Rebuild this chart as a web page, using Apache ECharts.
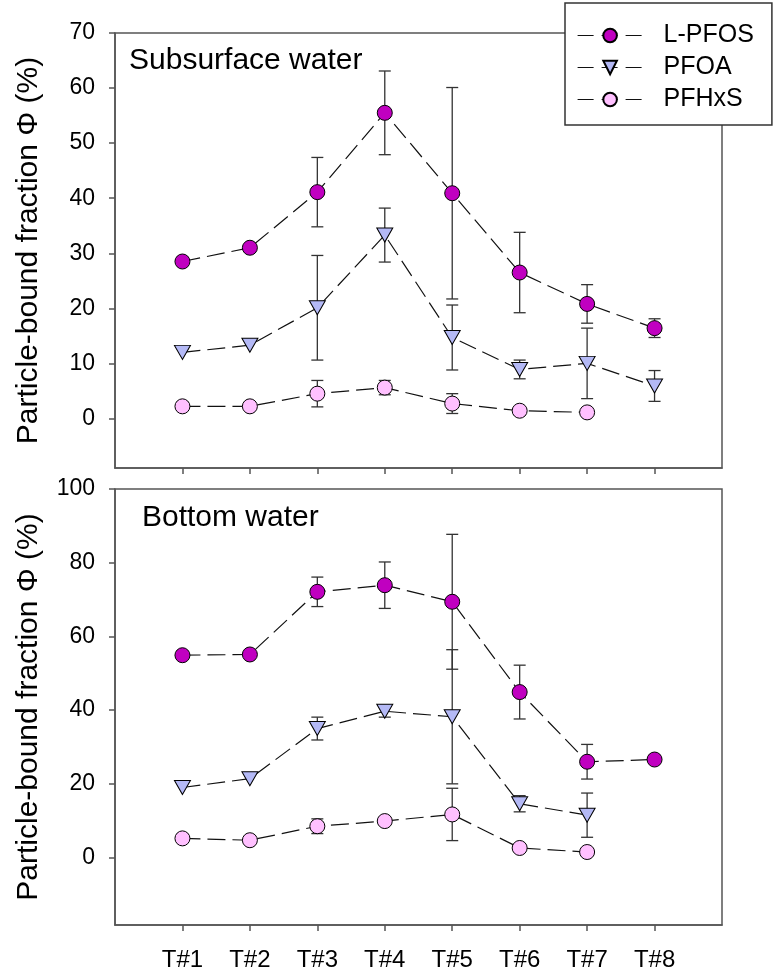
<!DOCTYPE html>
<html>
<head>
<meta charset="utf-8">
<script src="https://cdn.jsdelivr.net/npm/echarts@6/dist/echarts.min.js"></script>
<style>
  html, body { margin: 0; padding: 0; background: #fff; }
  #main { width: 779px; height: 974px; }
</style>
</head>
<body>
<div id="main"></div>
<script>
var categories = ['T#1', 'T#2', 'T#3', 'T#4', 'T#5', 'T#6', 'T#7', 'T#8'];
var seriesNames = ['L-PFOS', 'PFOA', 'PFHxS'];

// subsurface water (top panel)
var lpfosSub = [28.5, 31.0, 41.1, 55.5, 40.9, 26.5, 20.8, 16.4];
var lpfosSubErr = [0, 0, 6.3, 7.6, 19.2, 7.3, 3.5, 1.7];
var pfoaSub = [12.0, 13.3, 20.1, 33.3, 14.7, 8.9, 10.0, 5.9];
var pfoaSubErr = [0, 0, 9.5, 4.9, 5.9, 1.7, 6.4, 2.8];
var pfhxsSub = [2.2, 2.2, 4.5, 5.6, 2.7, 1.4, 1.1, null];
var pfhxsSubErr = [0, 0, 2.4, 1.3, 1.8, 0, 0, 0];

// bottom water (lower panel)
var lpfosBot = [54.9, 55.1, 72.1, 73.9, 69.4, 44.9, 26.0, 26.6];
var lpfosBotErr = [0, 0, 4.0, 6.3, 18.3, 7.3, 4.7, 0];
var pfoaBot = [19.0, 21.4, 35.0, 39.7, 38.2, 14.6, 11.5, null];
var pfoaBotErr = [0, 0, 3.1, 1.6, 18.2, 2.2, 6.0, 0];
var pfhxsBot = [5.2, 4.7, 8.5, 9.9, 11.7, 2.6, 1.5, null];
var pfhxsBotErr = [0, 0, 2.0, 0, 7.1, 0, 0, 0];

var ticksSub = [0, 10, 20, 30, 40, 50, 60, 70];
var ticksBot = [0, 20, 40, 60, 80, 100];
var xTicks = [1, 2, 3, 4, 5, 6, 7, 8];

var FONT = 'Liberation Sans, Arial, sans-serif';
var frameColor = '#555';
var colors = { 'L-PFOS': '#C000C0', 'PFOA': '#B4B9F6', 'PFHxS': '#FFC0FF' };
var symbols = { 'L-PFOS': 'circle', 'PFOA': 'triangle', 'PFHxS': 'circle' };

var myChart = echarts.init(document.getElementById('main'));

function pts(vals) {
    return vals.map(function (v, i) { return [i + 1, v]; }).filter(function (d) { return d[1] != null; });
}
function errPts(vals, errs) {
    return vals.map(function (v, i) { return [i + 1, v, errs[i]]; })
        .filter(function (d) { return d[1] != null && d[2] > 0; });
}

function lineSeries(name, vals, idx) {
    return {
        name: name,
        type: 'line',
        xAxisIndex: idx,
        yAxisIndex: idx,
        data: pts(vals),
        symbol: symbols[name],
        symbolSize: name === 'PFOA' ? [16, 14] : 15,
        symbolRotate: name === 'PFOA' ? 180 : 0,
        showAllSymbol: true,
        z: 3,
        lineStyle: { color: '#111', width: 1.2, type: [18, 7] },
        itemStyle: { color: colors[name], borderColor: '#000', borderWidth: 1 },
        emphasis: { disabled: true },
        animation: false
    };
}

// error bars (SD), drawn under the markers
function errSeries(name, vals, errs, idx) {
    return {
        name: name + ' SD',
        type: 'custom',
        xAxisIndex: idx,
        yAxisIndex: idx,
        data: errPts(vals, errs),
        z: 2,
        renderItem: function (params, api) {
            var x = api.value(0), y = api.value(1), e = api.value(2);
            var hi = api.coord([x, y + e]);
            var lo = api.coord([x, y - e]);
            var w = 6;
            var st = { stroke: '#333', lineWidth: 1.3 };
            return {
                type: 'group',
                children: [
                    { type: 'line', shape: { x1: hi[0], y1: hi[1], x2: lo[0], y2: lo[1] }, style: st },
                    { type: 'line', shape: { x1: hi[0] - w, y1: hi[1], x2: hi[0] + w, y2: hi[1] }, style: st },
                    { type: 'line', shape: { x1: lo[0] - w, y1: lo[1], x2: lo[0] + w, y2: lo[1] }, style: st }
                ]
            };
        },
        animation: false
    };
}

function xAxis(idx, showLabels) {
    return {
        type: 'value',
        gridIndex: idx,
        min: 0,
        max: 9,
        axisLine: { show: true, onZero: false, lineStyle: { color: frameColor, width: 1.5 } },
        axisTick: { show: true, length: 6, customValues: xTicks, lineStyle: { color: frameColor, width: 1.5 } },
        axisLabel: {
            show: showLabels,
            customValues: xTicks,
            margin: 23,
            color: '#000',
            fontSize: 24,
            fontFamily: FONT,
            formatter: function (v) { return categories[v - 1]; }
        },
        splitLine: { show: false }
    };
}

function yAxis(idx, min, max, ticks) {
    return {
        type: 'value',
        gridIndex: idx,
        min: min,
        max: max,
        name: 'Particle-bound fraction \u03A6 (%)',
        nameLocation: 'middle',
        nameGap: 71,
        nameTextStyle: { fontSize: 30, color: '#000', fontFamily: FONT },
        axisLine: { show: true, onZero: false, lineStyle: { color: frameColor, width: 1.5 } },
        axisTick: { show: true, length: 6, customValues: ticks, lineStyle: { color: frameColor, width: 1.5 } },
        axisLabel: { customValues: ticks, margin: 20, color: '#000', fontSize: 23, fontFamily: FONT },
        splitLine: { show: false }
    };
}

var option = {
    backgroundColor: '#fff',
    title: [
        { text: 'Subsurface water', left: 124, top: 41, textStyle: { fontSize: 30, fontWeight: 'normal', color: '#000', fontFamily: FONT } },
        { text: 'Bottom water', left: 137, top: 498, textStyle: { fontSize: 30, fontWeight: 'normal', color: '#000', fontFamily: FONT } }
    ],
    legend: {
        data: seriesNames,
        orient: 'vertical',
        left: 565,
        top: 3,
        padding: [20, 18, 13, 12],
        itemGap: 7,
        itemWidth: 65,
        itemHeight: 17,
        backgroundColor: '#fff',
        borderColor: '#333',
        borderWidth: 1.5,
        borderRadius: 0,
        selectedMode: false,
        lineStyle: { color: '#111', width: 1.2, type: [16, 8] },
        textStyle: { fontSize: 25, color: '#000', fontFamily: FONT, padding: [0, 0, 0, 16] }
    },
    grid: [
        { left: 115, right: 57, top: 33, height: 435, show: true, borderColor: frameColor, borderWidth: 1.5, backgroundColor: 'transparent' },
        { left: 115, right: 57, top: 489, height: 436, show: true, borderColor: frameColor, borderWidth: 1.5, backgroundColor: 'transparent' }
    ],
    xAxis: [xAxis(0, false), xAxis(1, true)],
    yAxis: [yAxis(0, -9, 70, ticksSub), yAxis(1, -18.3, 100, ticksBot)],
    series: [
        lineSeries('L-PFOS', lpfosSub, 0),
        lineSeries('PFOA', pfoaSub, 0),
        lineSeries('PFHxS', pfhxsSub, 0),
        errSeries('L-PFOS', lpfosSub, lpfosSubErr, 0),
        errSeries('PFOA', pfoaSub, pfoaSubErr, 0),
        errSeries('PFHxS', pfhxsSub, pfhxsSubErr, 0),
        lineSeries('L-PFOS', lpfosBot, 1),
        lineSeries('PFOA', pfoaBot, 1),
        lineSeries('PFHxS', pfhxsBot, 1),
        errSeries('L-PFOS', lpfosBot, lpfosBotErr, 1),
        errSeries('PFOA', pfoaBot, pfoaBotErr, 1),
        errSeries('PFHxS', pfhxsBot, pfhxsBotErr, 1)
    ]
};

myChart.setOption(option);
</script>
</body>
</html>
